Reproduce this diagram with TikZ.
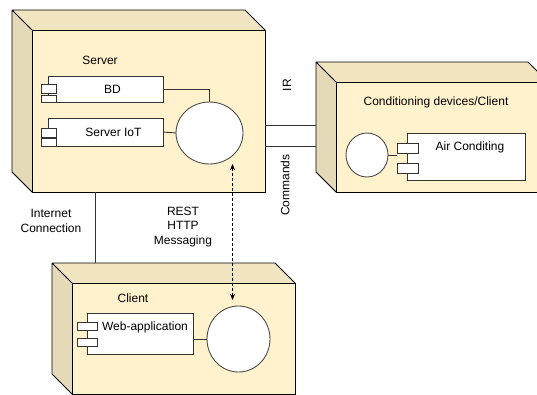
\documentclass[tikz,border=0pt]{standalone}
\usepackage{fontspec}
\setmainfont{Liberation Sans}
\usetikzlibrary{shapes.geometric,arrows.meta,calc}
\definecolor{boxfill}{HTML}{FFF2CC}

% 3d device box: #1 name, front face from (#2,#3) to (#4,#5)
\newcommand{\devbox}[5]{%
  \fill[boxfill!95!black] (#2-20,#3-20) -- (#4-20,#3-20) -- (#4,#3) -- (#2,#3) -- cycle;
  \fill[boxfill!90!black] (#2-20,#3-20) -- (#2,#3) -- (#2,#5) -- (#2-20,#5-20) -- cycle;
  \draw[boxline] (#2-20,#3-20) -- (#4-20,#3-20) -- (#4,#3)
    (#2-20,#3-20) -- (#2,#3) (#2-20,#3-20) -- (#2-20,#5-20) -- (#2,#5);
  \node[face,anchor=north west,minimum width={(#4-#2)*1pt},minimum height={(#5-#3)*1pt}] (#1) at (#2,#3) {};
}

\begin{document}
\begin{tikzpicture}[x=1pt,y=-1pt,
    boxline/.style={draw=black,line width=.9pt,line join=round},
    face/.style={boxline,fill=boxfill,inner sep=0pt,outer sep=0pt},
    comp/.style={draw=black!80,line width=.9pt,fill=white,inner sep=0pt,outer sep=0pt,anchor=north west},
    tab/.style={draw=black!80,line width=.9pt,fill=white},
    iface/.style={ellipse,draw=black!70,line width=.9pt,fill=white,inner sep=0pt,outer sep=0pt},
    txt/.style={font=\fontsize{12}{14.5}\selectfont,align=center,inner sep=0pt},
    link/.style={draw=black!80,line width=.9pt},
    msg/.style={draw=black,line width=.9pt,dash pattern=on 3pt off 2pt,
      {Stealth[length=6pt,width=5pt]}-{Stealth[length=6pt,width=5pt]}}]
  \useasboundingbox (0,0) rectangle (537,394);
  \clip (0,0) rectangle (537,394);

  % devices
  \devbox{server}{32}{30}{265}{192}
  \devbox{cond}{336}{82}{548}{192}
  \devbox{client}{72}{283}{295}{394}

  \node[txt] (srvname) at (100,60) {Server};
  \node[txt] (condname) at (436,102) {Conditioning devices/Client};
  \node[txt] (clientname) at (133,298) {Client};

  % components
  \node[comp,minimum width=115pt,minimum height=26pt,label={[txt,xshift=7pt]center:BD}] (bd) at (48,76) {};
  \node[comp,minimum width=115pt,minimum height=28pt,label={[txt,xshift=8pt]center:Server IoT}] (iot) at (48,118) {};
  \node[comp,minimum width=118pt,minimum height=47pt,label={[txt,anchor=north,xshift=4pt,yshift=-9pt]north:Air Conditing}] (ac) at (407,133) {};
  \node[comp,minimum width=106pt,minimum height=41pt,label={[txt,anchor=north,xshift=5pt,yshift=-9pt]north:Web-application}] (web) at (87,313) {};
  \foreach \nm/\lo/\hi/\ya/\yb/\yc/\yd in {bd/7/8/8/17.5/19/26, iot/7/8/10/19/20/28,
      ac/10/11/10/20/30/40, web/10/10/9.5/17/25.3/33}{
    \draw[tab] ([shift={(-\lo,\ya)}]\nm.north west) rectangle ([shift={(\hi,\yb)}]\nm.north west);
    \draw[tab] ([shift={(-\lo,\yc)}]\nm.north west) rectangle ([shift={(\hi,\yd)}]\nm.north west);
  }

  % interfaces
  \node[iface,minimum width=67pt,minimum height=62pt] (srvif) at (209.5,133) {};
  \node[iface,minimum width=42pt,minimum height=44pt] (acif) at (367,155) {};
  \node[iface,minimum width=63pt,minimum height=66pt] (webif) at (238.5,339) {};
  \coordinate (actab) at ([xshift=-10pt]ac.west);

  % connectors
  \draw[link] (bd.east) -| (srvif.north);
  \draw[link] (iot.east) -- (srvif.west);
  \draw[link] (acif.east) -- (acif.east -| actab);
  \draw[link] (web.east |- webif.west) -- (webif.west);
  \draw[link] ([yshift=-14pt]server.east) -- ([xshift=-20pt,yshift=12pt]cond.west);
  \draw[link] ([yshift=-35pt]server.east) -- ([xshift=-20pt,yshift=-9pt]cond.west);
  \draw[link] ([xshift=63pt]server.south west) -- ([shift={(23pt,20pt)}]client.north west);
  \draw[msg] ([xshift=23pt]srvif.south) -- ([xshift=-6pt,yshift=6pt]webif.north);

  % labels
  \node[txt,rotate=90] (irlbl) at (287,85) {IR};
  \node[txt,rotate=90] (cmdlbl) at (285,185) {Commands};
  \node[txt] (inetlbl) at (51,221) {Internet\\Connection};
  \node[txt] (restlbl) at (183,227) {REST\\HTTP\\Messaging};
\end{tikzpicture}
\end{document}
